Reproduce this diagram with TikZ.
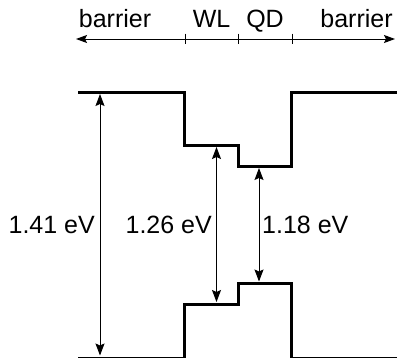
\documentclass[tikz,border=0pt]{standalone}
\usepackage{fontspec}
\setmainfont{Liberation Sans}
\usetikzlibrary{arrows.meta}

\tikzset{
  head/.tip={Stealth[length=12pt,width=9pt,inset=2pt]},
  axhead/.tip={Stealth[length=11pt,width=8pt,inset=2pt]},
  band/.style={line width=3pt, line join=miter, line cap=butt},
  gapboth/.style={line width=1pt, head-head},
  axisline/.style={line width=1pt, axhead-axhead},
  tick/.style={line width=1pt},
  lbl/.style={inner sep=0pt, font=\fontsize{25}{30}\selectfont}
}

\begin{document}
\begin{tikzpicture}[x=1pt, y=-1pt]
  \useasboundingbox (0,0) rectangle (397,357);

  % position axis with region ticks
  \coordinate (axL) at (76,39);
  \coordinate (axR) at (395,39);
  \draw[axisline] (axL) -- (axR);
  \foreach \t/\n in {185/t1, 238/t2, 292/t3} {
    \coordinate (\n a) at (\t,33.5);
    \coordinate (\n b) at (\t,44);
    \draw[tick] (\n a) -- (\n b);
  }

  % region labels
  \node[lbl, anchor=base] (lbar) at (115,27) {barrier};
  \node[lbl, anchor=base] (lwl)  at (211.5,27) {WL};
  \node[lbl, anchor=base] (lqd)  at (265,27) {QD};
  \node[lbl, anchor=base] (rbar) at (356.5,27) {barrier};

  % conduction band edge
  \draw[band] (78,92) -- (184,92) -- (184,145) -- (238,145) -- (238,166)
              -- (291,166) -- (291,92) -- (398,92);
  % valence band edge (runs along the lower border)
  \draw[band] (78,358.2) -- (184,358.2) -- (184,304) -- (238,304) -- (238,283)
              -- (291,283) -- (291,358.2) -- (398,358.2);

  % transition energies
  \coordinate (barT) at (100,94);
  \coordinate (barB) at (100,355.5);
  \coordinate (wlT)  at (216.5,147);
  \coordinate (wlB)  at (216.5,302);
  \coordinate (qdT)  at (259,168);
  \coordinate (qdB)  at (259,281.5);
  \draw[gapboth] (barT) -- (barB);
  \draw[gapboth] (wlT) -- (wlB);
  \draw[gapboth] (qdT) -- (qdB);

  \node[lbl, anchor=base east] (ebar) at (95,233) {1.41 eV};
  \node[lbl, anchor=base east] (ewl)  at (212,233) {1.26 eV};
  \node[lbl, anchor=base west] (eqd)  at (262,233) {1.18 eV};
\end{tikzpicture}
\end{document}
